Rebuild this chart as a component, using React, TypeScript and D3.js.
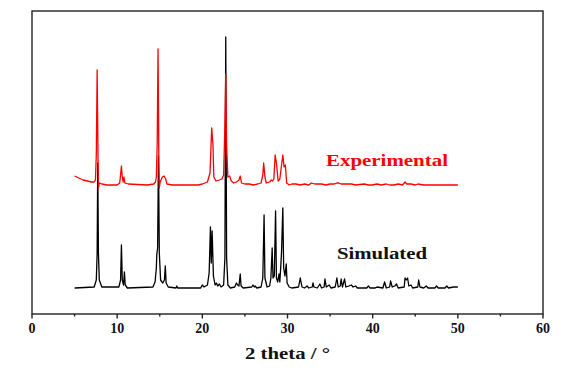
import { useEffect, useRef } from "react"
import * as d3 from "d3"

// 2 theta (deg) vs intensity (arbitrary units, baseline 0)
const simulated: [number, number][] = [
  [5, 0], [7.3, 1], [7.55, 8], [7.65, 35], [7.72, 125], [7.8, 35], [7.9, 8], [8.2, 1],
  [10.2, 1], [10.4, 8], [10.5, 43], [10.6, 8], [10.75, 3], [10.85, 16], [10.95, 3], [11.2, 0],
  [14.2, 1], [14.45, 6], [14.6, 20], [14.65, 33], [14.75, 40], [14.85, 132], [14.95, 35], [15.1, 8],
  [15.35, 5], [15.55, 8], [15.65, 22], [15.75, 5], [16.0, 1],
  [16.9, 0], [17.0, 2], [17.1, 0],
  [19.8, 0], [20.0, 3], [20.2, 1], [20.4, 2], [20.6, 3], [20.8, 15], [20.95, 61], [21.05, 25],
  [21.15, 57], [21.3, 12], [21.5, 3], [21.65, 5], [21.8, 2], [22.0, 4], [22.2, 1],
  [22.5, 3], [22.65, 30], [22.75, 251], [22.85, 30], [23.0, 3], [23.3, 0],
  [23.8, 1], [24.0, 5], [24.15, 3], [24.3, 2], [24.45, 14], [24.55, 2], [24.8, 0],
  [25.8, 1], [25.95, 3], [26.1, 1], [26.2, 2], [26.4, 0],
  [26.9, 1], [27.1, 10], [27.25, 73], [27.35, 10], [27.6, 1],
  [27.9, 2], [28.05, 10], [28.2, 40], [28.3, 10], [28.45, 12], [28.6, 77], [28.7, 10], [28.85, 6],
  [29.0, 14], [29.1, 6], [29.2, 20], [29.3, 36], [29.45, 80], [29.55, 20], [29.7, 12], [29.85, 24],
  [29.95, 5], [30.2, 1], [30.5, 0],
  [31.3, 1], [31.5, 10], [31.7, 1], [32.0, 0], [32.3, 2], [32.5, 0], [32.9, 1], [33.0, 5], [33.1, 1],
  [33.5, 0], [33.8, 4], [34.0, 0], [34.3, 1], [34.4, 9], [34.55, 1], [34.9, 3], [35.1, 0],
  [35.6, 1], [35.8, 10], [35.95, 1], [36.2, 2], [36.3, 9], [36.45, 1], [36.7, 9], [36.85, 1],
  [37.2, 2], [37.5, 3], [37.7, 1], [38.0, 2], [38.2, 0], [39.3, 0], [39.5, 2], [39.7, 0],
  [40.3, 0], [40.5, 1], [41.2, 0], [41.4, 6], [41.6, 0], [42.0, 1], [42.1, 7], [42.3, 1],
  [42.6, 2], [42.8, 4], [43.0, 0], [43.7, 1], [43.8, 10], [43.95, 8], [44.1, 10], [44.25, 2],
  [44.5, 3], [44.7, 0], [45.3, 1], [45.4, 8], [45.55, 1], [46.0, 0], [46.3, 2], [46.5, 0],
  [47.3, 0], [47.5, 2], [47.7, 0], [48.5, 0], [48.7, 2], [48.9, 0], [49.5, 1], [50, 1],
]

const experimental: [number, number][] = [
  [5.0, 9], [5.5, 7], [6.0, 5], [6.5, 4], [7.0, 3], [7.3, 3], [7.45, 5], [7.55, 30], [7.65, 115],
  [7.75, 30], [7.8, -3], [7.9, 2], [8.2, 1], [8.8, 0], [10.0, 0], [10.3, 2], [10.5, 19], [10.6, 8],
  [10.7, 3], [10.8, 8], [10.9, 2], [11.3, 1], [13.5, 0], [14.3, 1], [14.5, 3], [14.6, 8], [14.7, 40],
  [14.8, 136], [14.9, 20], [14.95, -3], [15.05, 3], [15.3, 8], [15.5, 9], [15.7, 6], [15.85, 1],
  [16.5, 0], [19.5, 0], [20.0, 1], [20.3, 2], [20.6, 3], [20.9, 12], [21.1, 57], [21.25, 40],
  [21.35, 8], [21.6, 4], [22.0, 5], [22.3, 6], [22.5, 10], [22.65, 60], [22.75, 111], [22.85, 40],
  [23.0, 8], [23.2, 9], [23.4, 4], [23.7, 2], [24.0, 3], [24.3, 5], [24.45, 9], [24.6, 2], [25.0, 1],
  [25.5, 1], [26.0, 0], [26.5, 1], [26.9, 2], [27.1, 10], [27.2, 22], [27.35, 8], [27.5, 2],
  [27.9, 3], [28.1, 5], [28.25, 4], [28.4, 6], [28.55, 30], [28.7, 22], [28.9, 4], [29.1, 6],
  [29.3, 20], [29.45, 30], [29.6, 18], [29.75, 20], [29.9, 2], [30.2, 0], [30.5, 1], [31.0, 1],
  [31.5, 0], [32.0, 1], [32.5, 0], [32.8, 2], [33.2, 1], [34.0, 1], [34.5, 0], [35.0, 1], [35.5, 1],
  [35.8, 2], [36.0, 2], [36.3, 1], [37.0, 1], [37.5, 1], [38.0, 0], [39.0, 1], [39.5, 0], [40.0, 0],
  [40.5, 1], [41.0, 0], [41.6, 1], [42.0, 0], [42.5, 0], [43.0, 1], [43.5, 0], [43.8, 3], [44.0, 1],
  [44.5, 1], [45.0, 0], [45.3, 1], [46.0, 0], [47.0, 0], [48.0, 0], [49.0, 0], [50.0, 0],
]

const expOffset = 103
const xTicks = [0, 10, 20, 30, 40, 50, 60]
const xMinor = [5, 15, 25, 35, 45, 55]

export default function App() {
  const svgRef = useRef<SVGSVGElement>(null)

  useEffect(() => {
    if (!svgRef.current) return
    const width = 571
    const height = 371
    const m = { top: 11, right: 28, bottom: 57, left: 32 }

    const svg = d3.select(svgRef.current)
    svg.selectAll("*").remove()
    svg.attr("width", width).attr("height", height)

    const x = d3.scaleLinear().domain([0, 60]).range([m.left, width - m.right])
    const y = d3.scaleLinear().domain([-26, 277]).range([height - m.bottom, m.top])
    const font = "'Liberation Serif', 'Times New Roman', serif"

    // frame
    svg.append("rect")
      .attr("x", x(0)).attr("y", m.top)
      .attr("width", x(60) - x(0)).attr("height", y(-26) - m.top)
      .attr("fill", "none").attr("stroke", "#222").attr("stroke-width", 1.4)

    const line = d3.line<[number, number]>().x(d => x(d[0]))

    svg.append("path")
      .attr("d", line.y(d => y(d[1]))(simulated))
      .attr("fill", "none").attr("stroke", "#000").attr("stroke-width", 1.3)
      .attr("stroke-linejoin", "round")

    svg.append("path")
      .attr("d", line.y(d => y(d[1] + expOffset))(experimental))
      .attr("fill", "none").attr("stroke", "#ff0000").attr("stroke-width", 1.3)
      .attr("stroke-linejoin", "round")

    // x axis
    const axis = svg.append("g").attr("transform", `translate(0,${y(-26)})`)
    axis.selectAll(".major").data(xTicks).enter().append("line")
      .attr("x1", d => x(d)).attr("x2", d => x(d)).attr("y1", 0).attr("y2", 4.5)
      .attr("stroke", "#222").attr("stroke-width", 1.4)
    axis.selectAll(".minor").data(xMinor).enter().append("line")
      .attr("x1", d => x(d)).attr("x2", d => x(d)).attr("y1", 0).attr("y2", 2.5)
      .attr("stroke", "#222").attr("stroke-width", 1.4)
    axis.selectAll("text").data(xTicks).enter().append("text")
      .attr("x", d => x(d)).attr("y", 19).attr("text-anchor", "middle")
      .attr("font-family", font).attr("font-weight", "bold").attr("font-size", 14)
      .attr("fill", "#101020")
      .text(d => d)

    svg.append("text")
      .attr("x", 245).attr("y", 359)
      .attr("font-family", font).attr("font-weight", "bold").attr("font-size", 16)
      .attr("textLength", 85).attr("lengthAdjust", "spacingAndGlyphs")
      .attr("fill", "#111")
      .text("2 theta / °")

    svg.append("text")
      .attr("x", 326).attr("y", 166)
      .attr("font-family", font).attr("font-weight", "bold").attr("font-size", 16)
      .attr("textLength", 122).attr("lengthAdjust", "spacingAndGlyphs")
      .attr("fill", "#ff0000")
      .text("Experimental")

    svg.append("text")
      .attr("x", 337).attr("y", 259)
      .attr("font-family", font).attr("font-weight", "bold").attr("font-size", 16)
      .attr("textLength", 90).attr("lengthAdjust", "spacingAndGlyphs")
      .attr("fill", "#111")
      .text("Simulated")
  }, [])

  return (
    <div style={{ position: "absolute", left: 0, top: 0 }}>
      <svg ref={svgRef} style={{ display: "block" }} />
    </div>
  )
}
